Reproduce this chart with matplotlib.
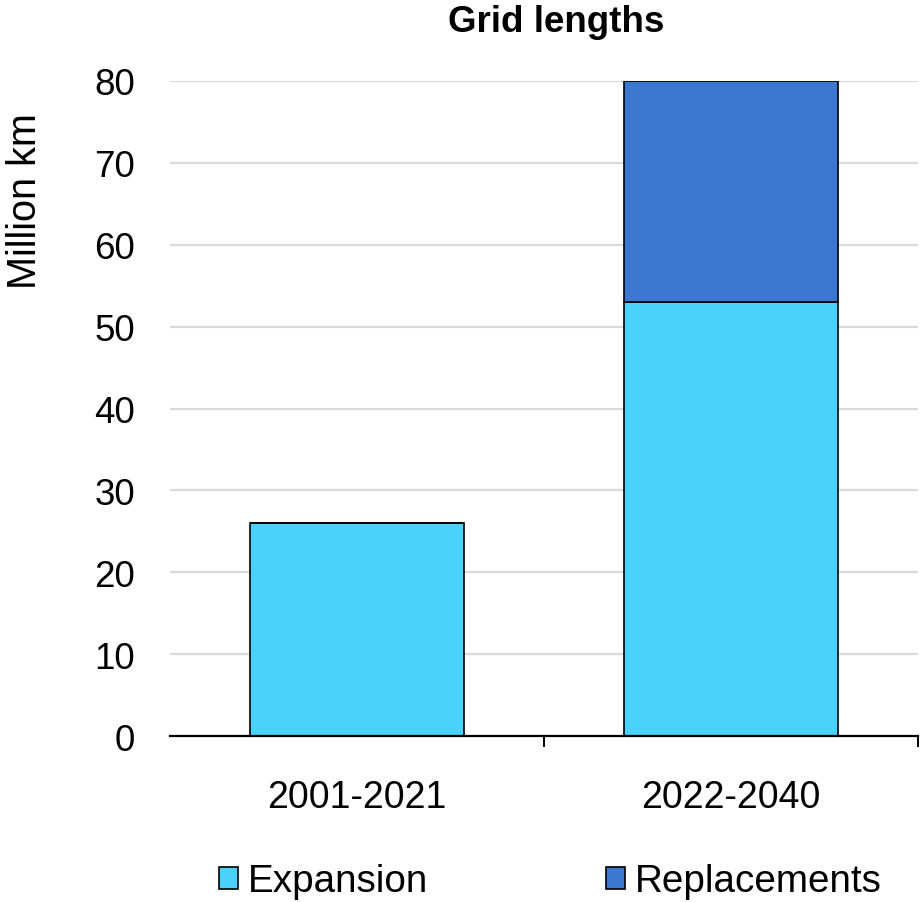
import matplotlib.pyplot as plt
import numpy as np

plt.rcParams['font.family'] = ['Liberation Sans', 'DejaVu Sans']

# data
periods = ['2001-2021', '2022-2040']
expansion = [26, 53]
replacements = [0, 27]

fig = plt.figure(figsize=(9.22, 9.03), dpi=100)
ax = fig.add_axes([0.1844, 0.1838, 0.8113, 0.7254])

x = np.arange(len(periods))
w = 0.57
ax.bar(x, expansion, w, color='#48D2FC', edgecolor='black', linewidth=1.2,
       label='Expansion', zorder=3)
ax.bar(x, replacements, w, bottom=expansion, color='#3C78D2', edgecolor='black',
       linewidth=1.2, label='Replacements', zorder=3)

ax.set_xlim(-0.5, 1.5)
ax.set_ylim(0, 80)
ax.set_yticks(range(0, 81, 10))
ax.yaxis.grid(True, color='#D9D9D9', linewidth=1.6, zorder=0)
ax.set_axisbelow(True)

for s in ['top', 'right', 'left']:
    ax.spines[s].set_visible(False)
ax.spines['bottom'].set_linewidth(1.6)
ax.spines['bottom'].set_zorder(4)

ax.set_xticks(x)
ax.set_xticklabels(periods, fontsize=27)
ax.tick_params(axis='x', length=0, pad=31)
ax.set_xticks([0.5, 1.5], minor=True)
ax.tick_params(axis='x', which='minor', length=8, width=1.4, direction='out')
ax.tick_params(axis='y', length=0, labelsize=26.5, pad=25)

ax.set_ylabel('Million km', fontsize=28.5)
ax.yaxis.set_label_coords(-0.168, 0.8176)

fig.text(0.6036, 0.975, 'Grid lengths', fontsize=26.5, fontweight='bold',
         ha='center', va='center')

fig.legend(loc='center', bbox_to_anchor=(0.597, 0.023), ncol=2, frameon=False,
           fontsize=27.8, handlelength=0.5, handleheight=0.5, handletextpad=0.25,
           columnspacing=4.6)

fig.savefig('out.png', dpi=100)
